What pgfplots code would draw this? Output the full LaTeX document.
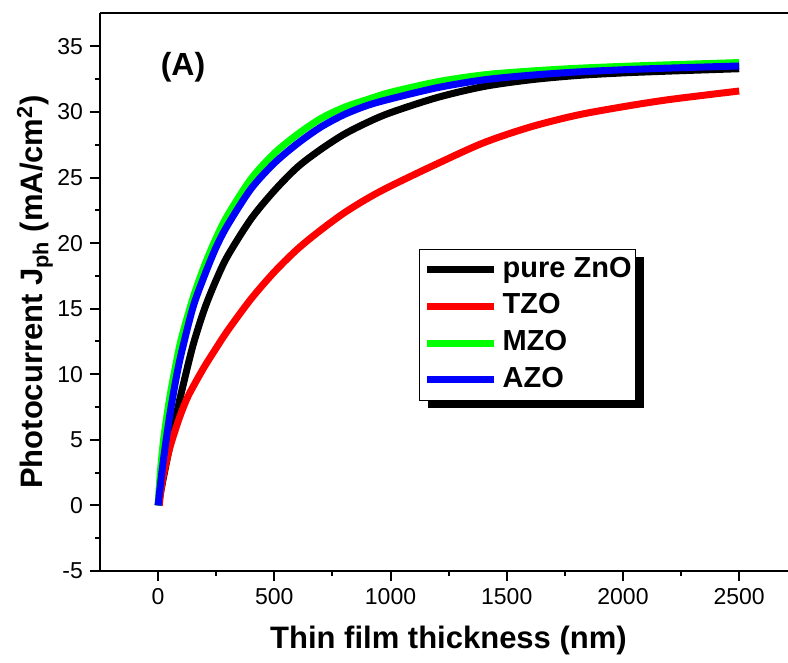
\documentclass[border=0pt]{standalone}
\usepackage{fontspec}
\setmainfont{Liberation Sans}
\usepackage{pgfplots}
\usepackage{pgfplotstable}
\pgfplotsset{compat=1.18}
\usetikzlibrary{shadows,calc}
\makeatletter
% keep the legend's drop shadow off the legend sample lines
\tikzset{no preaction/.code={\let\tikz@preactions\pgfutil@empty}}
\makeatother

% thickness (nm) vs photocurrent (mA/cm^2)
\pgfplotstableread{
d J
0 0
10 0.95
25 2.3
50 4.5
75 6.6
100 8.6
150 12.2
200 15.0
250 17.2
300 19.05
400 21.85
500 24.0
600 25.8
700 27.15
800 28.3
900 29.2
1000 29.95
1200 31.1
1400 31.94
1600 32.45
1800 32.78
2000 32.98
2200 33.12
2500 33.3
}\zno
\pgfplotstableread{
d J
5 0
15 1.5
30 2.9
52 4.5
90 6.6
123 8.1
152 9.1
200 10.6
250 12.0
300 13.35
400 15.75
500 17.8
600 19.55
700 21.0
800 22.3
900 23.4
1000 24.35
1200 26.05
1400 27.65
1600 28.85
1800 29.75
2000 30.4
2200 30.95
2500 31.6
}\tzo
\pgfplotstableread{
d J
0 0
10 2.6
25 5.2
50 8.2
75 10.6
100 12.7
150 15.8
200 18.3
250 20.4
300 22.15
400 24.9
500 26.85
600 28.3
700 29.5
800 30.35
900 30.95
1000 31.5
1200 32.3
1400 32.83
1600 33.12
1800 33.33
2000 33.48
2200 33.6
2500 33.77
}\mzo
\pgfplotstableread{
d J
0 0
10 1.6
25 3.75
50 6.85
75 9.45
100 11.6
150 15.1
200 17.55
250 19.7
300 21.4
400 24.15
500 26.1
600 27.6
700 28.85
800 29.8
900 30.5
1000 31.0
1200 31.85
1400 32.45
1600 32.8
1800 33.05
2000 33.22
2200 33.35
2500 33.51
}\azo

\begin{document}
\begin{tikzpicture}
\begin{axis}[
  name=ax,
  scale only axis, width=344pt, height=279pt,
  xmin=-250, xmax=2710, ymin=-5, ymax=37.55,
  axis x line*=box, axis y line*=left,
  axis line style={-, line width=1pt},
  xtick={0,500,...,2500}, minor x tick num=1,
  ytick={-5,0,...,35}, minor y tick num=1,
  xtick pos=left, ytick pos=left,
  tick align=outside, major tick length=5pt, minor tick length=2.5pt,
  tick style={line width=1pt, black},
  ticklabel style={font=\fontsize{11.5}{13}\selectfont},
  /pgf/number format/assume math mode=true,
  /pgf/number format/1000 sep={},
  scaled x ticks=false,
  label style={font=\bfseries\fontsize{15.5}{18}\selectfont},
  xlabel={Thin film thickness (nm)},
  ylabel={Photocurrent J\textsubscript{ph} (mA/cm\textsuperscript{2})},
  xlabel style={at={(axis description cs:0.5065,-0.1237)}, anchor=center},
  ylabel style={at={(axis description cs:-0.0945,0.5)}, anchor=center},
  legend style={at={(axis cs:1123,19.57)}, anchor=north west,
    draw=black, line width=0.6pt, fill=white,
    font=\bfseries\fontsize{14.5}{16}\selectfont,
    drop shadow={shadow xshift=4pt, shadow yshift=-4pt, fill=black, opacity=1},
    inner xsep=2pt, inner ysep=3.5pt, row sep=4.8pt, column sep=2.5pt,
    nodes={inner sep=0pt, text height=10.5pt, text depth=3pt}},
  legend cell align=left,
  legend image code/.code={\draw[#1, no preaction] (0pt,0pt) -- (33.5pt,0pt);},
  every axis plot/.append style={line width=3.5pt, smooth, tension=0.5, line join=round},
]
\addplot[black] table[x=d, y=J] {\zno};
\addlegendentry{pure ZnO}
\addplot[red] table[x=d, y=J] {\tzo};
\addlegendentry{TZO}
\addplot[green] table[x=d, y=J] {\mzo};
\addlegendentry{MZO}
\addplot[blue] table[x=d, y=J] {\azo};
\addlegendentry{AZO}
\node[font=\bfseries\fontsize{16}{19}\selectfont] at (axis cs:107,33.4) {(A)};
\end{axis}
\pgfresetboundingbox
\path ($(ax.south west)+(-50pt,-46pt)$) rectangle ($(ax.north east)+(0pt,6.5pt)$);
\end{tikzpicture}
\end{document}
